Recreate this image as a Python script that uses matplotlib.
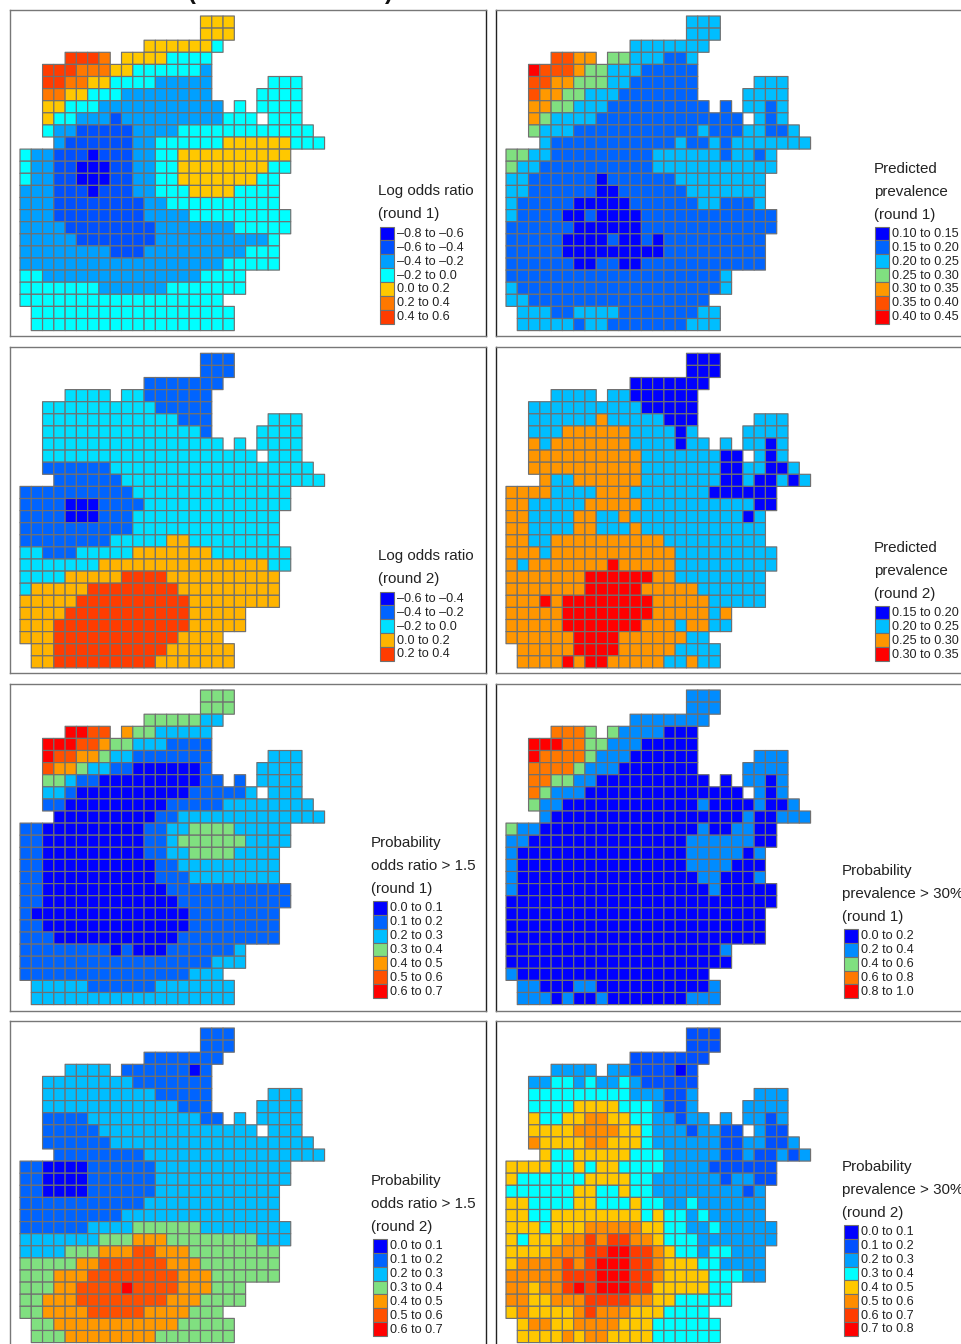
import matplotlib
matplotlib.use('Agg')
import matplotlib.pyplot as plt
from matplotlib.colors import ListedColormap, BoundaryNorm
from matplotlib.patches import Rectangle
import numpy as np

plt.rcParams['font.family'] = ['Liberation Sans', 'DejaVu Sans']

W, H = 961, 1344

# which cells of the district grid exist, shared by all maps
MASK = [
    "                ###",
    "                ###",
    "           #######",
    "    #### ########",
    "  ###############",
    "  ###############     ###",
    "  ###############    ####",
    "  ################ # ####",
    "  ################### ###",
    "  ########################",
    "   ########################",
    "########################",
    "########################",
    "#######################",
    "#######################",
    "#######################",
    "########################",
    "########################",
    "#######################",
    "#######################",
    "#######################",
    "####################",
    "####################",
    "##################",
    " ##################",
    " ##################",
]

# class index per existing cell, row by row (spaces only group runs)
LOR1 = [
    "444", "444", "444444 3",
    "6665 4444 3333",
    "666 555 44 333333 2",
    "66 55 44 3333 22222 333",
    "55 44 333 22222222 3333",
    "44 333 22222222222 3 3333",
    "4 33 222 1 222222222 333 333",
    "3 22 11111 2222 333333333333",
    "2 111111 22 333333 444444 333",
    "3 22 111 0 111 22 33 4444444444",
    "3 22 11 000 11 22 33 44444444 33",
    "3 22 11 000 11 22 33 4444444 33",
    "222 111 0 111 22 333 4444 3333",
    "222 11111111 22 3333333333",
    "222 11111111 2222 333333333",
    "2222 11111111 2222222 33333",
    "22222 1111111 2222222222 3",
    "22222222 111 222222222 333",
    "222222222222222222 33333",
    "33 22222222222222 3333",
    "3333333 222222 3333333",
    "333333333333333333",
    "333333333333333333",
    "333333333333333333",
]
PREV1 = [
    "222", "222", "2222222",
    "5544 33222112",
    "6555 4 33 222 11111",
    "55 44 333 22 111111 222",
    "5 44 33 222 1111111 2222",
    "44 33 222 111111111 1 2212",
    "4 3 2222 1111111111111 212",
    "3 222 11111111111 2 111 22 11 2",
    "2 11111111111 2 11 2 1 2222222",
    "33 22 111111111 222222 1 22 1 2",
    "3 22 1111111111 22222222222",
    "22 111111 0 111111 22222222",
    "22 111111 00 111111 2222222",
    "2 11111 00000 111111 22 111 2",
    "2 1111 00 1 0000 111111111111",
    "111111 000000 111111111111",
    "11111 0000 1 00 1 0 111111111",
    "11111 000000000 111111111",
    "111111 00 11 00 11111111111",
    "1111111111111111111 2",
    "2 111111111111111111 2",
    "22 1111111111111111",
    "222 11 2222 1111111 22",
    "22222 1 22 1111111 222",
]
LOR2 = [
    "111", "111", "1111111",
    "2222 22 111111",
    "2222222222 11111",
    "222222222222 111 222",
    "22222222222222 1 2222",
    "2222222222222222 2 2222",
    "2222222222222222222 222",
    "111111 222222222222222222",
    "111111 222222222222222222",
    "1111111111 22222222222222",
    "1111 000 1111 2222222222222",
    "1111 000 111 2222222222222",
    "1111111111 2222222222222",
    "11111111 22222 33 22222222",
    "22 111 22222 3333333 2222222",
    "2222222 333333333333333 22",
    "2222 33333 4444 3333333333",
    "2 33333 44444444 333333333",
    "33333 4444444444 33333333",
    "3333 44444444444 33333",
    "333 444444444444 33333",
    "333 44444444444 3333",
    "33 4444444444 333333",
    "33 444444444 3333333",
]
PREV2 = [
    "000", "000", "0000000",
    "1111 11 000000",
    "1111111111 00000",
    "111111 2 11111 000 111",
    "111 222222 1111 0 1 1111",
    "2 1 2222222 1111 0 11 1 1101",
    "2222222222 1111111 00 101",
    "2222222222 1111111 00 11 00 1",
    "2 11 222222 1111111 00 1 00 1 0 1",
    "2222 1111 222 1111111 000000",
    "22 11111 22222 1111111111 00",
    "22 1111 22 11 2 1111111111 0 1",
    "22 1111 22 111 2 11111111111",
    "22 11 2222222222 111111111",
    "222 1 22222222222 111111111",
    "2 1 2222222 3 22222 111111111",
    "2222222 333333 22 11111111",
    "2222222 33333 22222 111111",
    "222 3 2 33333333 22222 11111",
    "22222 33333333 22222 1 2",
    "22222 3333333 222 1 22 11",
    "222222 3333 222222 11",
    "22222 3333 22222 1111",
    "2222 3 2 33 22222 11 2 11",
]
PROB_LOR1 = [
    "333", "333", "33333 22",
    "6655 43322222",
    "666 55 4 33 222 1111",
    "6 55 44 3 22 1111111 222",
    "5 44 3 22 11 000000 1 2222",
    "33 2 11 000000000 11 1 2222",
    "22 1 0000000000 11111 2 222",
    "11 000000000 11111 22222222",
    "000000000 11 2222222222222",
    "11 000000000 11 22 3333 22222",
    "11 000000000 11 2 333333 2222",
    "11 000000000 11 22 3333 2222",
    "11 0000000000 11 222222222",
    "11 0000000000 111 22222222",
    "11 00000000000 11111111111",
    "11 000000000000 1111111111",
    "1 00000000000000 11111111",
    "11 0000000000000 11111111",
    "111 00000000000 111111111",
    "11111111 0 1 000 111111 2",
    "11111111111111111 222",
    "111111111111111 222",
    "22222 111111 2222222",
    "222222222222222222",
]
PROB_PREV1 = [
    "111", "111", "1111111",
    "3332 2 1111 000",
    "444 33 22 111 00000",
    "4 3333 2 111 000000 111",
    "3333 2 111 0000000 1111",
    "33 22 11 0000000000 0 1101",
    "3 2 111 00000000000000 101",
    "2 11 000000000000 1 0000 1 00 1",
    "1 00000000000000000 1 00 111",
    "2 11 00000000000000 1 00 11 00",
    "11 00000000000000 111111 00",
    "1 000000000000000 11111 0 1",
    "1 000000000000000 1111 000",
    "1 0000000000000000 11 000 1",
    "1 00000000000000000 1 00000",
    "000000000000000000000000",
    "00000000000000000000000",
    "00000000000000000000000",
    "00000000000000000000000",
    "0000000000000000000 1",
    "00000000000000000000",
    "1 00000000000000000",
    "11 000 11 0000000000 1",
    "111 0 1 00 1 0000000 111",
]
PROB_LOR2 = [
    "111", "111", "1111111",
    "2222 111111 0 1",
    "22222222 1111111",
    "2222222222 11111 222",
    "222222222222 111 2222",
    "1111 2222222222 11 2 2222",
    "11111 22222222222222 222",
    "111111 222222222222222222",
    "11111111 2222222222222222",
    "11 0000 111111 222222222222",
    "11 0000 111111 222222222222",
    "11 0000 111111 22222222222",
    "11111111111 222222222222",
    "111111111 22222222222222",
    "111111 2222 333333 22222222",
    "2222222 333 444 33333333 222",
    "2222 333 444 55 444 33333333",
    "33333 44 555555 444 3333333",
    "333 444 55555555 444 333333",
    "333 44 5555 6 5555 444 333",
    "33 444 55555555 444 3333",
    "33 4444 55555 4444 333",
    "33 44444444444 33333",
    "333 44444444 3333333",
]
PROB_PREV2 = [
    "111", "111", "1111111",
    "2222 22 1111 0 1",
    "22 33 2 3 22 3 2 11111",
    "333333333 222 11 2 222",
    "3333 4444 333 2 11 2 2222",
    "4 33 44 55 44 33 22 1 22 2 2212",
    "4444 5555 44 3 222 1 22 11 2 1 1",
    "5 4444 55 444 3 222222 11 22 11 2",
    "4 33 44444 333 22222 11 2 11 2 1 2",
    "4444 33 4 3 44 3333 2222 111111",
    "4 333333 4444 33 222222 1 22 11",
    "333333 44 33 4 33 22222222 1 2",
    "44 3333 44 333 4 33 22 3 222222",
    "44 33 44444444 3 4 33 2 3 22222",
    "444 3 444 55555 44 33 22 3 22222",
    "4 3 444 55 6 5 66 55 4 333 2222222",
    "4444 555 66 77 66 5 4 33 2 33 222",
    "4 5555 6 5 6 777 66 5 444 33 2222",
    "55555 666 777 66 5 4444 333 22",
    "55 4 55 6 7 6 777 66 44444 33",
    "55 44 555 6666 55 44 33333",
    "4 5 4444 5 6 555 444 3333",
    "4 55 44 5555 444 333333",
    "4444 5 4 55 4444 333333",
]

PAL_LOR1 = ['#0000FF', '#0050FF', '#00A0FF', '#00FFFF', '#FFC800', '#FF7800', '#FF3C00']
PAL_PREV = ['#0000FF', '#0064FF', '#00BEFF', '#80E080', '#FF9900', '#FF5000', '#FF0000']
PAL_LOR2 = ['#0000FF', '#0064FF', '#00E0FF', '#FFB400', '#FF3C00']
PAL_PREV2 = ['#0000FF', '#00BEFF', '#FF9600', '#FF0000']
PAL_PROB1 = ['#0000FF', '#008CFF', '#80E080', '#FF7800', '#FF0000']
PAL_PROB2 = ['#0000FF', '#0050FF', '#00A0FF', '#00FFFF', '#FFC800', '#FF8C00', '#FF3C00', '#FF0000']

LAB_LOR1 = ['–0.8 to –0.6', '–0.6 to –0.4', '–0.4 to –0.2', '–0.2 to 0.0', '0.0 to 0.2', '0.2 to 0.4', '0.4 to 0.6']
LAB_PREV1 = ['0.10 to 0.15', '0.15 to 0.20', '0.20 to 0.25', '0.25 to 0.30', '0.30 to 0.35', '0.35 to 0.40', '0.40 to 0.45']
LAB_LOR2 = ['–0.6 to –0.4', '–0.4 to –0.2', '–0.2 to 0.0', '0.0 to 0.2', '0.2 to 0.4']
LAB_PREV2 = ['0.15 to 0.20', '0.20 to 0.25', '0.25 to 0.30', '0.30 to 0.35']
LAB_P7 = ['0.0 to 0.1', '0.1 to 0.2', '0.2 to 0.3', '0.3 to 0.4', '0.4 to 0.5', '0.5 to 0.6', '0.6 to 0.7']
LAB_P5 = ['0.0 to 0.2', '0.2 to 0.4', '0.4 to 0.6', '0.6 to 0.8', '0.8 to 1.0']
LAB_P8 = LAB_P7 + ['0.7 to 0.8']

CW, CH = 11.28, 12.1
EDGE = '#707070'

fig = plt.figure(figsize=(W / 100, H / 100), dpi=100)


def to_grid(rows):
    grid = np.full((len(MASK), len(MASK[10])), np.nan)
    for r, (m, vals) in enumerate(zip(MASK, rows)):
        vals = vals.replace(' ', '')
        cols = [c for c, ch in enumerate(m) if ch == '#']
        if len(cols) != len(vals):
            print('row', r, 'has', len(vals), 'values, expected', len(cols))
        for c, v in zip(cols, vals):
            grid[r, c] = int(v)
    return np.ma.masked_invalid(grid)


def draw_panel(box, origin, rows, colors, title, labels, title_pos, sw_pos):
    x0, y0, x1, y1 = box
    gx, gy = origin
    ax = fig.add_axes([x0 / W, 1 - y1 / H, (x1 - x0) / W, (y1 - y0) / H])
    cmap = ListedColormap(colors)
    norm = BoundaryNorm(np.arange(len(colors) + 1) - 0.5, len(colors))
    # pcolor leaves out the masked cells, pcolormesh would still stroke them
    ax.pcolor(to_grid(rows), cmap=cmap, norm=norm, edgecolors=EDGE, linewidth=0.85,
              antialiased=True)
    ax.set_xlim((x0 - gx) / CW, (x1 - gx) / CW)
    ax.set_ylim((y1 - gy) / CH, (y0 - gy) / CH)
    ax.set_xticks([])
    ax.set_yticks([])
    for name, s in ax.spines.items():
        s.set_color('#777777')
        s.set_linewidth(1.0)
    if gx > 300:
        ax.spines['left'].set_color('#222222')
    else:
        ax.spines['right'].set_color('#222222')

    tx, ty = title_pos
    for i, line in enumerate(title):
        fig.text(tx / W, 1 - (ty + 1 + i * 23) / H, line, fontsize=10.9, color='#222222',
                 ha='left', va='center')
    sx, sy = sw_pos
    for i, (col, lab) in enumerate(zip(colors, labels)):
        fig.add_artist(Rectangle((sx / W, 1 - (sy + (i + 1) * 13.86) / H), 14 / W, 13.86 / H,
                                 facecolor=col, edgecolor=EDGE, linewidth=0.8,
                                 transform=fig.transFigure))
        fig.text((sx + 17) / W, 1 - (sy + 0.5 + (i + 0.5) * 13.86) / H, lab, fontsize=9.1,
                 color='#222222', ha='left', va='center')


LEFT = (10, 486)
RIGHT = (496, 975)
draw_panel((LEFT[0], 10, LEFT[1], 336), (20, 16), LOR1, PAL_LOR1,
           ['Log odds ratio', '(round 1)'], LAB_LOR1, (378, 190), (380, 226.5))
draw_panel((RIGHT[0], 10, RIGHT[1], 336), (506, 16), PREV1, PAL_PREV,
           ['Predicted', 'prevalence', '(round 1)'], LAB_PREV1, (874, 168), (875, 226.5))
draw_panel((LEFT[0], 347, LEFT[1], 673), (20, 353.3), LOR2, PAL_LOR2,
           ['Log odds ratio', '(round 2)'], LAB_LOR2, (378, 555), (380, 591.5))
draw_panel((RIGHT[0], 347, RIGHT[1], 673), (506, 353.3), PREV2, PAL_PREV2,
           ['Predicted', 'prevalence', '(round 2)'], LAB_PREV2, (874, 547), (875, 605.5))
draw_panel((LEFT[0], 684, LEFT[1], 1011), (20, 690), PROB_LOR1, PAL_PREV,
           ['Probability', 'odds ratio > 1.5', '(round 1)'], LAB_P7, (371, 842), (373, 901))
draw_panel((RIGHT[0], 684, RIGHT[1], 1011), (506, 690), PROB_PREV1, PAL_PROB1,
           ['Probability', 'prevalence > 30%', '(round 1)'], LAB_P5, (842, 870), (844, 929))
draw_panel((LEFT[0], 1021, LEFT[1], 1355), (20, 1028), PROB_LOR2, PAL_PREV,
           ['Probability', 'odds ratio > 1.5', '(round 2)'], LAB_P7, (371, 1180), (373, 1239))
draw_panel((RIGHT[0], 1021, RIGHT[1], 1355), (506, 1028), PROB_PREV2, PAL_PROB2,
           ['Probability', 'prevalence > 30%', '(round 2)'], LAB_P8, (842, 1166), (844, 1225))

# bottom of the cut off heading that pokes in at the top edge
fig.text(192 / W, 1 + 1 / H, '(', fontsize=17, fontweight='bold', color='#111111', ha='center', va='baseline')
fig.text(389 / W, 1 + 1 / H, ')', fontsize=17, fontweight='bold', color='#111111', ha='center', va='baseline')

fig.savefig('out.png', dpi=100)
